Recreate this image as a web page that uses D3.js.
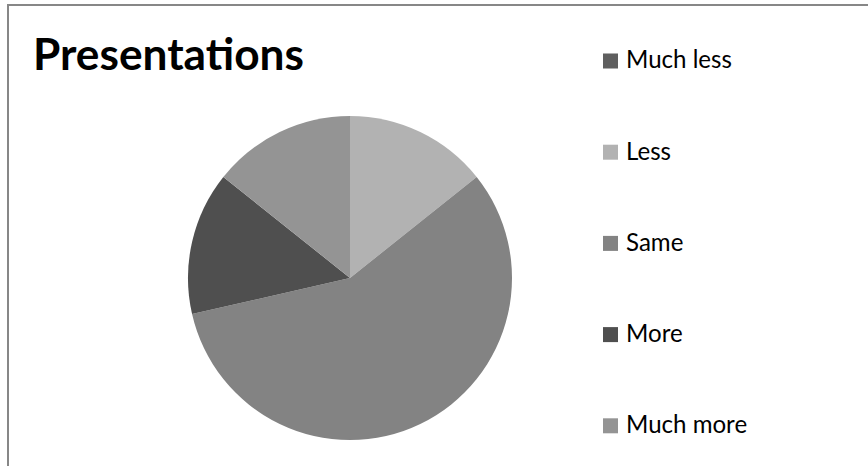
<!DOCTYPE html>
<html><head><meta charset="utf-8">
<script src="https://cdn.jsdelivr.net/npm/d3@7"></script>
<style>html,body{margin:0;padding:0;background:#fff;}svg{display:block;}</style>
</head><body>
<svg id="c" width="868" height="466"></svg>
<script>
const title = "Presentations";
const categories = ["Much less", "Less", "Same", "More", "Much more"];
const values = [0, 1, 4, 1, 1];
const colors = ["#5f5f5f", "#b2b2b2", "#838383", "#4f4f4f", "#949494"];

const svg = d3.select("#c");
const W = 868, H = 466;
svg.append("rect").attr("width", W).attr("height", H).attr("fill", "#fff");
// chart border (top and left visible)
svg.append("path").attr("d", "M8,470 L8,5 L872,5").attr("fill", "none")
  .attr("stroke", "#878787").attr("stroke-width", 2);

const font = "Lato, 'Open Sans', sans-serif";

// Title
const t = svg.append("text").attr("x", 33).attr("y", 70)
  .attr("font-family", font).attr("font-weight", "bold")
  .attr("font-size", 40).attr("fill", "#000").text(title);
const tw = t.node().getComputedTextLength();
t.attr("font-size", 40 * 271 / tw);

// Pie
const cx = 350, cy = 278, r = 162;
const color = d3.scaleOrdinal().domain(categories).range(colors);
const pie = d3.pie().sort(null).value(d => d.v);
const arc = d3.arc().innerRadius(0).outerRadius(r);
const data = categories.map((c, i) => ({c, v: values[i]}));
svg.append("g").attr("transform", `translate(${cx},${cy})`)
  .selectAll("path").data(pie(data)).join("path")
  .attr("d", arc).attr("fill", d => color(d.data.c));

// Legend
const ly = d3.scalePoint().domain(categories).range([61, 425.8]);
const lg = svg.append("g").selectAll("g").data(categories).join("g")
  .attr("transform", d => `translate(603,${ly(d)})`);
lg.append("rect").attr("x", 0).attr("y", -7.5).attr("width", 15).attr("height", 15)
  .attr("fill", d => color(d));
const lt = lg.append("text").attr("x", 23).attr("y", 7.3)
  .attr("font-family", font).attr("font-size", 22).attr("fill", "#000").text(d => d);
const w0 = lt.nodes()[0].getComputedTextLength();
lt.attr("font-size", 22 * 106 / w0);
</script>
</body></html>
